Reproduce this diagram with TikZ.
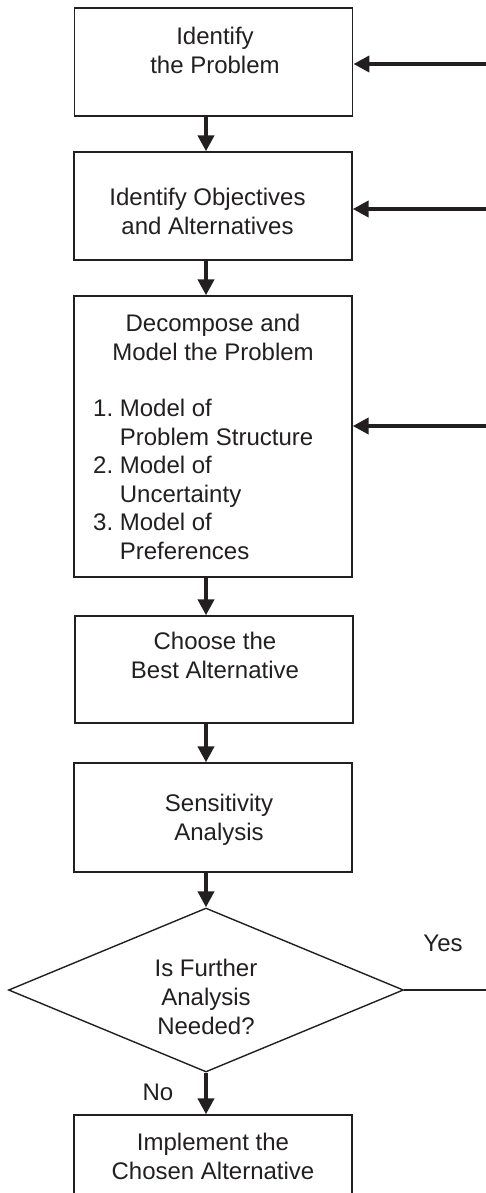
\documentclass[tikz,border=0pt]{standalone}
\usepackage{fontspec}
\setmainfont{Liberation Sans}
\usetikzlibrary{arrows.meta,shapes.geometric}
\definecolor{ink}{RGB}{35,31,32}
\begin{document}
\begin{tikzpicture}[x=1pt,y=-1pt,
  box/.style={draw=ink, line width=1.4pt, minimum width=278pt, inner sep=0pt},
  txt/.style={inner sep=0pt, align=center, text=ink, font=\fontsize{24}{29}\selectfont},
  flow/.style={draw=ink, line width=4pt, -{Triangle[length=16pt,width=16pt]}},
  thin/.style={draw=ink, line width=1.4pt}]
\path[use as bounding box, fill=white] (0,0) rectangle (486,1193);

% boxes
\node[box, minimum height=108pt] (b1) at (213.75,62) {};
\node[box, minimum height=108pt] (b2) at (213,206) {};
\node[box, minimum height=281pt] (b3) at (213,436.5) {};
\node[box, minimum height=107pt] (b4) at (214,669.5) {};
\node[box, minimum height=109pt] (b5) at (213,817.5) {};
\node[draw=ink, line width=1.4pt, diamond, minimum width=395pt, minimum height=164pt, inner sep=0pt] (dia) at (206,990) {};
\node[box, minimum height=108pt] (b6) at (213,1169) {};

% texts
\node[txt] (t1) at (215,50.5) {Identify\\the Problem};
\node[txt] (t2) at (207.5,211.5) {Identify Objectives\\and Alternatives};
\node[txt] (t3) at (213,337) {Decompose and\\Model the Problem};
\node[txt, anchor=north west, align=left] (t3b) at (93,396.6)
  {\fontsize{24}{28.5}\selectfont\begin{tabular}{@{}l@{\ }l@{}}
   1. & Model of\\ & Problem Structure\\
   2. & Model of\\ & Uncertainty\\
   3. & Model of\\ & Preferences\end{tabular}};
\node[txt] (t4) at (215,655.5) {Choose the\\Best Alternative};
\node[txt] (t5) at (219,820) {Sensitivity\\Analysis};
\node[txt] (td) at (206,997) {Is Further\\Analysis\\Needed?};
\node[txt] (t6) at (213,1156) {Implement the\\Chosen Alternative};
\node[txt] (yes) at (443,943) {Yes};
\node[txt] (no) at (158,1092) {No};

% connectors
\draw[flow] (b1.south -| dia.north) -- (b2.north -| dia.north);
\draw[flow] (b2.south -| dia.north) -- (b3.north -| dia.north);
\draw[flow] (b3.south -| dia.north) -- (b4.north -| dia.north);
\draw[flow] (b4.south -| dia.north) -- (b5.north -| dia.north);
\draw[flow] (b5.south -| dia.north) -- (dia.north);
\draw[flow] (dia.south) -- (b6.north -| dia.south);

\coordinate (r1) at (492,64);
\coordinate (r2) at (492,209);
\coordinate (r3) at (492,426);
\coordinate (ry) at (492,990);
\draw[flow] (r1) -- (r1 -| b1.east);
\draw[flow] (r2) -- (r2 -| b2.east);
\draw[flow] (r3) -- (r3 -| b3.east);
\draw[thin] (dia.east) -- (ry);
\end{tikzpicture}
\end{document}
